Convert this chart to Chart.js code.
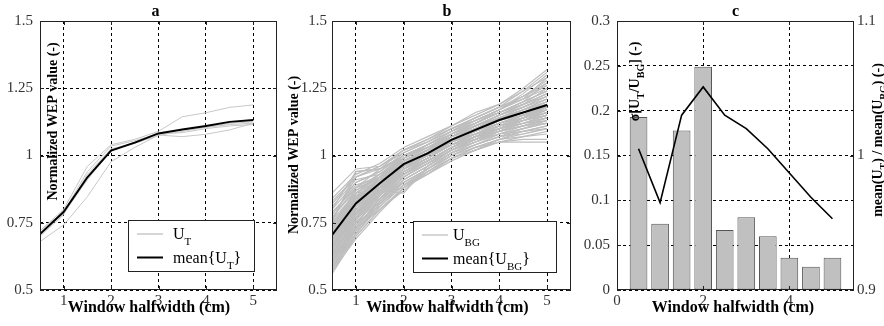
<!DOCTYPE html>
<html><head><meta charset="utf-8">
<script src="https://cdn.jsdelivr.net/npm/chart.js@4.4.1/dist/chart.umd.min.js"></script>
<style>
html,body{margin:0;padding:0;background:#fff;}
#wrap{position:relative;width:884px;height:326px;overflow:hidden;background:#fff;}
canvas{position:absolute;left:0;top:0;}
</style></head><body>
<div id="wrap">
<canvas id="ca" width="884" height="326"></canvas>
<canvas id="cb" width="884" height="326"></canvas>
<canvas id="cc" width="884" height="326"></canvas>
</div>
<script>
// ---------------- DATA ----------------
const windowHalfwidth = [0.5, 1, 1.5, 2, 2.5, 3, 3.5, 4, 4.5, 5];

// panel a
const meanUT = [0.708, 0.791, 0.919, 1.018, 1.048, 1.082, 1.097, 1.110, 1.125, 1.132];
const UT1 = [0.72, 0.80, 0.96, 1.04, 1.06, 1.09, 1.144, 1.159, 1.179, 1.188];
const UT2 = [0.68, 0.742, 0.847, 0.977, 1.03, 1.076, 1.070, 1.079, 1.095, 1.12];
const UT3 = [0.72, 0.79, 0.94, 1.035, 1.055, 1.08, 1.085, 1.10, 1.11, 1.115];
const UT4 = [0.70, 0.78, 0.93, 1.025, 1.045, 1.075, 1.09, 1.105, 1.12, 1.125];
const UT5 = [0.71, 0.785, 0.91, 1.02, 1.05, 1.085, 1.095, 1.105, 1.115, 1.12];
const singleUT = [UT1, UT2, UT3, UT4, UT5];

// panel b
const meanUBG = [0.704, 0.822, 0.897, 0.968, 1.008, 1.058, 1.095, 1.132, 1.160, 1.188];
const singleUBG = [
  [0.86, 0.95, 0.96, 1.02, 1.05, 1.10, 1.14, 1.18, 1.24, 1.31],
  [0.84, 0.93, 0.97, 1.03, 1.07, 1.11, 1.15, 1.19, 1.25, 1.32],
  [0.82, 0.92, 0.95, 1.00, 1.04, 1.09, 1.13, 1.17, 1.21, 1.29],
  [0.80, 0.90, 0.94, 1.01, 1.05, 1.10, 1.13, 1.16, 1.20, 1.27],
  [0.79, 0.88, 0.93, 0.99, 1.03, 1.08, 1.12, 1.16, 1.19, 1.25],
  [0.78, 0.89, 0.92, 0.98, 1.02, 1.07, 1.11, 1.15, 1.19, 1.23],
  [0.77, 0.87, 0.93, 0.99, 1.03, 1.07, 1.10, 1.14, 1.18, 1.22],
  [0.76, 0.86, 0.91, 0.98, 1.02, 1.06, 1.10, 1.14, 1.17, 1.21],
  [0.75, 0.85, 0.91, 0.97, 1.01, 1.06, 1.09, 1.13, 1.17, 1.20],
  [0.74, 0.85, 0.90, 0.97, 1.01, 1.06, 1.10, 1.13, 1.16, 1.20],
  [0.73, 0.84, 0.91, 0.98, 1.02, 1.07, 1.11, 1.15, 1.18, 1.21],
  [0.73, 0.83, 0.89, 0.96, 1.00, 1.05, 1.09, 1.12, 1.15, 1.19],
  [0.72, 0.84, 0.90, 0.97, 1.01, 1.06, 1.09, 1.13, 1.15, 1.18],
  [0.71, 0.83, 0.90, 0.96, 1.00, 1.05, 1.08, 1.12, 1.14, 1.18],
  [0.71, 0.82, 0.89, 0.96, 1.01, 1.06, 1.10, 1.14, 1.17, 1.19],
  [0.70, 0.81, 0.88, 0.95, 0.99, 1.04, 1.08, 1.11, 1.14, 1.17],
  [0.69, 0.81, 0.89, 0.97, 1.01, 1.06, 1.09, 1.12, 1.15, 1.17],
  [0.69, 0.80, 0.87, 0.95, 1.00, 1.05, 1.09, 1.13, 1.16, 1.18],
  [0.68, 0.80, 0.88, 0.96, 1.00, 1.04, 1.08, 1.11, 1.13, 1.16],
  [0.67, 0.79, 0.87, 0.94, 0.99, 1.04, 1.07, 1.10, 1.13, 1.15],
  [0.67, 0.78, 0.86, 0.95, 0.99, 1.05, 1.08, 1.12, 1.15, 1.17],
  [0.66, 0.78, 0.87, 0.94, 0.98, 1.03, 1.07, 1.10, 1.12, 1.14],
  [0.65, 0.77, 0.85, 0.93, 0.98, 1.03, 1.06, 1.09, 1.12, 1.14],
  [0.64, 0.76, 0.85, 0.94, 0.99, 1.04, 1.08, 1.11, 1.14, 1.16],
  [0.63, 0.75, 0.84, 0.92, 0.97, 1.02, 1.06, 1.09, 1.11, 1.13],
  [0.62, 0.74, 0.83, 0.91, 0.96, 1.02, 1.05, 1.08, 1.10, 1.12],
  [0.61, 0.73, 0.83, 0.92, 0.97, 1.03, 1.07, 1.10, 1.12, 1.13],
  [0.60, 0.72, 0.82, 0.90, 0.95, 1.01, 1.04, 1.07, 1.09, 1.11],
  [0.59, 0.71, 0.81, 0.89, 0.95, 1.00, 1.04, 1.07, 1.08, 1.10],
  [0.58, 0.70, 0.80, 0.88, 0.94, 1.00, 1.03, 1.06, 1.07, 1.08],
  [0.57, 0.69, 0.79, 0.88, 0.93, 0.99, 1.02, 1.05, 1.06, 1.06],
  [0.56, 0.70, 0.80, 0.87, 0.94, 0.99, 1.03, 1.05, 1.05, 1.05],
  [0.72, 0.88, 0.91, 0.96, 1.00, 1.04, 1.07, 1.09, 1.11, 1.12],
  [0.68, 0.85, 0.87, 0.86, 0.96, 1.02, 1.06, 1.10, 1.14, 1.19],
  [0.75, 0.94, 0.95, 1.00, 1.03, 1.06, 1.08, 1.10, 1.12, 1.15],
  [0.63, 0.77, 0.88, 0.97, 1.02, 1.08, 1.12, 1.16, 1.20, 1.24],
  [0.70, 0.84, 0.86, 0.88, 0.95, 1.01, 1.05, 1.09, 1.13, 1.17],
  [0.66, 0.80, 0.90, 0.99, 1.04, 1.09, 1.14, 1.18, 1.22, 1.27],
  [0.81, 0.91, 0.93, 0.97, 1.01, 1.04, 1.06, 1.08, 1.09, 1.10],
  [0.60, 0.74, 0.86, 0.95, 1.01, 1.07, 1.11, 1.15, 1.18, 1.22],
  [0.78, 0.90, 0.94, 1.00, 1.04, 1.09, 1.12, 1.16, 1.20, 1.24],
  [0.74, 0.87, 0.92, 0.98, 1.02, 1.07, 1.11, 1.15, 1.19, 1.23],
  [0.72, 0.85, 0.91, 0.99, 1.03, 1.08, 1.12, 1.16, 1.19, 1.22],
  [0.70, 0.83, 0.91, 0.98, 1.02, 1.07, 1.11, 1.14, 1.17, 1.20],
  [0.69, 0.82, 0.90, 0.97, 1.01, 1.06, 1.10, 1.14, 1.16, 1.19],
  [0.68, 0.81, 0.89, 0.96, 1.01, 1.05, 1.09, 1.13, 1.16, 1.19],
  [0.67, 0.80, 0.88, 0.96, 1.00, 1.05, 1.09, 1.12, 1.15, 1.18],
  [0.66, 0.79, 0.88, 0.95, 1.00, 1.05, 1.08, 1.12, 1.15, 1.17],
  [0.65, 0.79, 0.87, 0.95, 0.99, 1.04, 1.08, 1.11, 1.14, 1.17],
  [0.64, 0.78, 0.87, 0.94, 0.99, 1.04, 1.07, 1.11, 1.13, 1.16],
  [0.63, 0.77, 0.86, 0.94, 0.98, 1.03, 1.07, 1.10, 1.13, 1.15],
  [0.62, 0.76, 0.86, 0.93, 0.98, 1.03, 1.06, 1.10, 1.12, 1.15],
  [0.61, 0.75, 0.85, 0.93, 0.97, 1.02, 1.06, 1.09, 1.12, 1.14],
  [0.60, 0.73, 0.84, 0.92, 0.97, 1.02, 1.05, 1.09, 1.11, 1.14],
  [0.59, 0.72, 0.83, 0.91, 0.96, 1.01, 1.05, 1.08, 1.11, 1.13],
  [0.58, 0.71, 0.82, 0.90, 0.95, 1.01, 1.04, 1.08, 1.10, 1.12],
  [0.76, 0.92, 0.96, 1.01, 1.05, 1.09, 1.13, 1.17, 1.22, 1.28],
  [0.80, 0.94, 0.95, 0.99, 1.03, 1.08, 1.12, 1.17, 1.23, 1.30],
  [0.83, 0.92, 0.96, 1.02, 1.06, 1.11, 1.16, 1.19, 1.24, 1.29],
  [0.77, 0.88, 0.95, 1.02, 1.06, 1.10, 1.14, 1.18, 1.21, 1.26],
  [0.73, 0.86, 0.93, 1.00, 1.04, 1.09, 1.13, 1.17, 1.21, 1.25],
  [0.71, 0.84, 0.92, 0.99, 1.04, 1.08, 1.13, 1.17, 1.22, 1.26],
  [0.69, 0.79, 0.84, 0.90, 0.95, 1.00, 1.04, 1.07, 1.10, 1.13],
  [0.66, 0.77, 0.82, 0.89, 0.94, 0.99, 1.03, 1.06, 1.09, 1.11],
  [0.64, 0.75, 0.81, 0.89, 0.93, 0.99, 1.02, 1.06, 1.08, 1.10],
  [0.62, 0.73, 0.80, 0.88, 0.93, 0.98, 1.02, 1.05, 1.07, 1.09],
  [0.75, 0.86, 0.88, 0.92, 0.97, 1.02, 1.06, 1.10, 1.14, 1.18],
  [0.73, 0.85, 0.88, 0.93, 0.98, 1.03, 1.07, 1.11, 1.14, 1.17],
  [0.70, 0.86, 0.92, 0.96, 1.00, 1.05, 1.08, 1.11, 1.13, 1.15],
  [0.68, 0.83, 0.92, 1.00, 1.04, 1.08, 1.11, 1.14, 1.16, 1.18],
  [0.65, 0.81, 0.90, 0.98, 1.03, 1.07, 1.10, 1.13, 1.16, 1.19],
  [0.60, 0.76, 0.87, 0.96, 1.00, 1.05, 1.09, 1.13, 1.17, 1.21],
  [0.58, 0.73, 0.84, 0.93, 0.98, 1.03, 1.07, 1.11, 1.15, 1.18],
  [0.57, 0.71, 0.82, 0.91, 0.96, 1.02, 1.06, 1.10, 1.13, 1.16],
  [0.62, 0.78, 0.89, 0.97, 1.02, 1.07, 1.12, 1.16, 1.20, 1.24]
];

// panel c
const sigmaRatio = [0.193, 0.074, 0.178, 0.249, 0.067, 0.081, 0.060, 0.036, 0.026, 0.036];
const meanRatio = [1.005, 0.965, 1.030, 1.051, 1.030, 1.020, 1.005, 0.987, 0.969, 0.953];

// ticks
const xTicksAB = [1, 2, 3, 4, 5];
const xTickLabelsAB = ['1', '2', '3', '4', '5'];
const yTicksAB = [0.5, 0.75, 1, 1.25, 1.5];
const yTickLabelsAB = ['0.5', '0.75', '1', '1.25', '1.5'];
const xTicksC = [0, 2, 4];
const xTickLabelsC = ['0', '2', '4'];
const yTicksCLeft = [0, 0.05, 0.1, 0.15, 0.2, 0.25, 0.3];
const yTickLabelsCLeft = ['0', '0.05', '0.1', '0.15', '0.2', '0.25', '0.3'];
const yTicksCRight = [0.9, 1, 1.1];
const yTickLabelsCRight = ['0.9', '1', '1.1'];

// ---------------- HELPERS ----------------
const SERIF = '"Liberation Serif", "DejaVu Serif", serif';
const tickFont = {family: SERIF, size: 15};
const tickColor = '#333';

function pts(arr) { return windowHalfwidth.map((x, i) => ({x: x, y: arr[i]})); }

function axis(min, max, values, labels, extra, tickPad) {
  const o = {
    type: 'linear', min: min, max: max, offset: false,
    afterBuildTicks: s => { s.ticks = values.map(v => ({value: v})); },
    grid: {color: '#000', lineWidth: 1, drawTicks: false, offset: false},
    border: {display: false, dash: [3, 3]},
    ticks: {font: tickFont, color: tickColor, autoSkip: false, maxRotation: 0, minRotation: 0, padding: tickPad,
      callback: v => { const i = values.findIndex(t => Math.abs(t - v) < 1e-9); return i >= 0 ? labels[i] : ''; }}
  };
  return Object.assign(o, extra || {});
}

function richWidth(ctx, segs, size, weight) {
  let w = 0;
  segs.forEach(s => {
    ctx.font = weight + ' ' + (s[1] ? Math.round(size * 0.7) : size) + 'px ' + SERIF;
    w += ctx.measureText(s[0]).width;
  });
  return w;
}
function drawRich(ctx, segs, x, y, size, weight, align, rot) {
  ctx.save();
  ctx.translate(x, y);
  if (rot) ctx.rotate(rot);
  ctx.fillStyle = '#000';
  ctx.textBaseline = 'alphabetic';
  ctx.textAlign = 'left';
  const w = richWidth(ctx, segs, size, weight);
  let cx = align === 'center' ? -w / 2 : (align === 'right' ? -w : 0);
  segs.forEach(s => {
    const sz = s[1] ? Math.round(size * 0.7) : size;
    ctx.font = weight + ' ' + sz + 'px ' + SERIF;
    ctx.fillText(s[0], cx, s[1] ? size * 0.38 : 0);
    cx += ctx.measureText(s[0]).width;
  });
  ctx.restore();
}

function frameAndTicks(chart, xId, yIds) {
  const ctx = chart.ctx, a = chart.chartArea;
  ctx.save();
  ctx.strokeStyle = '#222';
  ctx.lineWidth = 1;
  ctx.setLineDash([]);
  ctx.strokeRect(Math.round(a.left) + 0.5, Math.round(a.top) + 0.5, Math.round(a.right - a.left) - 1, Math.round(a.bottom - a.top) - 1);
  const xs = chart.scales[xId];
  ctx.beginPath();
  xs.ticks.forEach(t => {
    const px = Math.round(xs.getPixelForValue(t.value)) + 0.5;
    ctx.moveTo(px, a.bottom); ctx.lineTo(px, a.bottom - 4);
    ctx.moveTo(px, a.top); ctx.lineTo(px, a.top + 4);
  });
  yIds.forEach((id, k) => {
    const ys = chart.scales[id];
    ys.ticks.forEach(t => {
      const py = Math.round(ys.getPixelForValue(t.value)) + 0.5;
      if (yIds.length === 1 || k === 0) { ctx.moveTo(a.left, py); ctx.lineTo(a.left + 4, py); }
      if (yIds.length === 1 || k === 1) { ctx.moveTo(a.right, py); ctx.lineTo(a.right - 4, py); }
    });
  });
  ctx.stroke();
  ctx.restore();
}

function legendBox(ctx, x, y, w, h, entries) {
  ctx.save();
  ctx.fillStyle = '#fff';
  ctx.fillRect(x, y, w, h);
  ctx.strokeStyle = '#222'; ctx.lineWidth = 1; ctx.setLineDash([]);
  ctx.strokeRect(x + 0.5, y + 0.5, w - 1, h - 1);
  entries.forEach(e => {
    ctx.strokeStyle = e.color; ctx.lineWidth = e.width;
    ctx.beginPath(); ctx.moveTo(e.x1, e.y); ctx.lineTo(e.x2, e.y); ctx.stroke();
    drawRich(ctx, e.segs, e.tx, e.y + 5, 16, 'normal', 'left', 0);
  });
  ctx.restore();
}

const common = {
  responsive: false, animation: false, devicePixelRatio: 1,
  events: [],
  plugins: {legend: {display: false}, tooltip: {enabled: false}, title: {display: false}}
};

// ---------------- PANEL A ----------------
const dsA = [{data: pts(meanUT), borderColor: '#000', borderWidth: 2, pointRadius: 0, tension: 0, order: 0}]
  .concat(singleUT.map(a => ({data: pts(a), borderColor: '#c8c8c8', borderWidth: 1, pointRadius: 0, tension: 0, order: 1})));
new Chart(document.getElementById('ca'), {
  type: 'line',
  data: {datasets: dsA},
  options: Object.assign({}, common, {
    layout: {padding: {left: 0, right: 607, top: 21, bottom: 0}},
    scales: {
      x: axis(0.5, 5.5, xTicksAB, xTickLabelsAB, {afterFit: s => { s.height = 36; }}, 2),
      y: axis(0.5, 1.5, yTicksAB, yTickLabelsAB, {afterFit: s => { s.width = 40; }}, 7)
    }
  }),
  plugins: [{
    id: 'decoA',
    afterDatasetsDraw(c) { frameAndTicks(c, 'x', ['y']); },
    afterDraw(c) {
      const ctx = c.ctx;
      drawRich(ctx, [['a', 0]], 155.5, 16, 16, 'bold', 'center', 0);
      drawRich(ctx, [['Window halfwidth (cm)', 0]], 149, 312, 16, 'bold', 'center', 0);
      drawRich(ctx, [['Normalized WEP value (-)', 0]], 57, 121.5, 14, 'bold', 'center', -Math.PI / 2);
      legendBox(ctx, 128, 220, 127, 52, [
        {color: '#c8c8c8', width: 1.5, x1: 137, x2: 163, y: 234, tx: 173, segs: [['U', 0], ['T', 1]]},
        {color: '#000', width: 2, x1: 137, x2: 163, y: 257.5, tx: 173, segs: [['mean{U', 0], ['T', 1], ['}', 0]]}
      ]);
    }
  }]
});

// ---------------- PANEL B ----------------
const dsB = [{data: pts(meanUBG), borderColor: '#000', borderWidth: 2, pointRadius: 0, tension: 0, order: 0}]
  .concat(singleUBG.map(a => ({data: pts(a), borderColor: '#bebebe', borderWidth: 1.2, pointRadius: 0, tension: 0, order: 1})));
new Chart(document.getElementById('cb'), {
  type: 'line',
  data: {datasets: dsB},
  options: Object.assign({}, common, {
    layout: {padding: {left: 292, right: 313, top: 21, bottom: 0}},
    scales: {
      x: axis(0.5, 5.5, xTicksAB, xTickLabelsAB, {afterFit: s => { s.height = 36; }}, 2),
      y: axis(0.5, 1.5, yTicksAB, yTickLabelsAB, {afterFit: s => { s.width = 40; }}, 5)
    }
  }),
  plugins: [{
    id: 'decoB',
    afterDatasetsDraw(c) { frameAndTicks(c, 'x', ['y']); },
    afterDraw(c) {
      const ctx = c.ctx;
      drawRich(ctx, [['b', 0]], 447, 16, 16, 'bold', 'center', 0);
      drawRich(ctx, [['Window halfwidth (cm)', 0]], 447.5, 312, 16, 'bold', 'center', 0);
      drawRich(ctx, [['Normalized WEP value (-)', 0]], 297.5, 155, 14, 'bold', 'center', -Math.PI / 2);
      legendBox(ctx, 413, 221, 144, 52, [
        {color: '#c8c8c8', width: 1.5, x1: 422, x2: 448, y: 235, tx: 453, segs: [['U', 0], ['BG', 1]]},
        {color: '#000', width: 2, x1: 422, x2: 448, y: 258.5, tx: 453, segs: [['mean{U', 0], ['BG', 1], ['}', 0]]}
      ]);
    }
  }]
});

// ---------------- PANEL C ----------------
new Chart(document.getElementById('cc'), {
  type: 'bar',
  data: {datasets: [
    {type: 'line', data: pts(meanRatio), yAxisID: 'yR', borderColor: '#000', borderWidth: 1.6, pointRadius: 0, tension: 0, order: 0},
    {type: 'bar', data: pts(sigmaRatio), yAxisID: 'yL', backgroundColor: '#c0c0c0', borderColor: '#555', borderWidth: 1,
      borderSkipped: false, barPercentage: 0.82, categoryPercentage: 1, order: 1}
  ]},
  options: Object.assign({}, common, {
    layout: {padding: {left: 577, right: 0, top: 21, bottom: 0}},
    scales: {
      x: axis(0, 5.5, xTicksC, xTickLabelsC, {afterFit: s => { s.height = 36; }}, 2),
      yL: axis(0, 0.3, yTicksCLeft, yTickLabelsCLeft, {position: 'left', afterFit: s => { s.width = 40; }}, 7),
      yR: axis(0.9, 1.1, yTicksCRight, yTickLabelsCRight, {position: 'right', grid: {display: false, drawTicks: false}, afterFit: s => { s.width = 30; }}, 3)
    }
  }),
  plugins: [{
    id: 'decoC',
    afterDatasetsDraw(c) { frameAndTicks(c, 'x', ['yL', 'yR']); },
    afterDraw(c) {
      const ctx = c.ctx;
      drawRich(ctx, [['c', 0]], 735.5, 16, 16, 'bold', 'center', 0);
      drawRich(ctx, [['Window halfwidth (cm)', 0]], 733, 312, 16, 'bold', 'center', 0);
      drawRich(ctx, [['σ[U', 0], ['T', 1], ['/U', 0], ['BG', 1], ['] (-)', 0]], 639, 81.5, 14, 'bold', 'center', -Math.PI / 2);
      drawRich(ctx, [['mean(U', 0], ['T', 1], [') / mean(U', 0], ['BG', 1], [') (-)', 0]], 882, 140, 14, 'bold', 'center', -Math.PI / 2);
    }
  }]
});
</script>
</body></html>
